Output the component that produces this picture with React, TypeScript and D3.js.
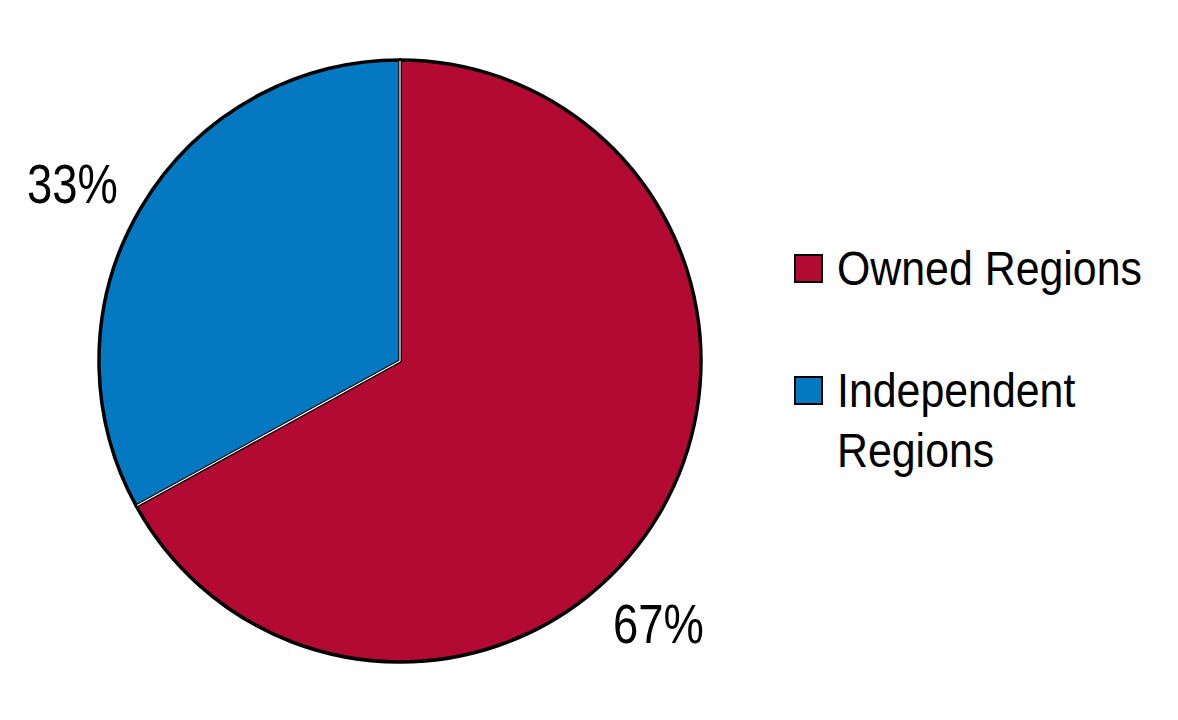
import React from "react";
import * as d3 from "d3";

const categories = ["Owned Regions", "Independent Regions"];
const values = [67, 33];
const labels = ["67%", "33%"];
const colors = ["#B20A33", "#0479C1"];
const legendLines = [["Owned Regions"], ["Independent", "Regions"]];

export default function App() {
  const W = 1178, H = 720;
  const cx = 400, cy = 361, r = 301;
  const pie = d3.pie<number>().sort(null).startAngle(0).endAngle(2 * Math.PI);
  const arcs = pie(values);
  const arc = d3.arc<d3.PieArcDatum<number>>().innerRadius(0).outerRadius(r);
  const font = "'Liberation Sans', Arial, sans-serif";
  const labelPos = [
    { x: 613, y: 643 },
    { x: 27, y: 203 },
  ];
  const boundaries = arcs.map((a) => a.startAngle);
  return (
    <svg width={W} height={H} style={{ position: "absolute", left: 0, top: 0 }}>
      <rect width={W} height={H} fill="#fff" />
      <g transform={`translate(${cx},${cy})`}>
        {arcs.map((a, i) => (
          <path key={i} d={arc(a) || ""} fill={colors[i]} stroke="#000" strokeWidth={3.5} strokeLinejoin="round" />
        ))}
        {boundaries.map((ang, i) => (
          <line key={i} x1={0} y1={0} x2={(r - 1) * Math.sin(ang)} y2={-(r - 1) * Math.cos(ang)} stroke="#fff" strokeWidth={1.2} />
        ))}
      </g>
      {labels.map((t, i) => (
        <text key={i} transform={`translate(${labelPos[i].x},${labelPos[i].y}) scale(0.81,1)`}
          fontFamily={font} fontSize={56} fill="#000">{t}</text>
      ))}
      {categories.map((c, i) => {
        const sy = i === 0 ? 255 : 377;
        return (
          <g key={c}>
            <rect x={795} y={sy} width={27} height={27} fill={colors[i]} stroke="#000" strokeWidth={2} />
            {legendLines[i].map((ln, j) => (
              <text key={j} transform={`translate(837,${sy + 30 + j * 60}) scale(0.875,1)`}
                fontFamily={font} fontSize={49} fill="#000">{ln}</text>
            ))}
          </g>
        );
      })}
    </svg>
  );
}
